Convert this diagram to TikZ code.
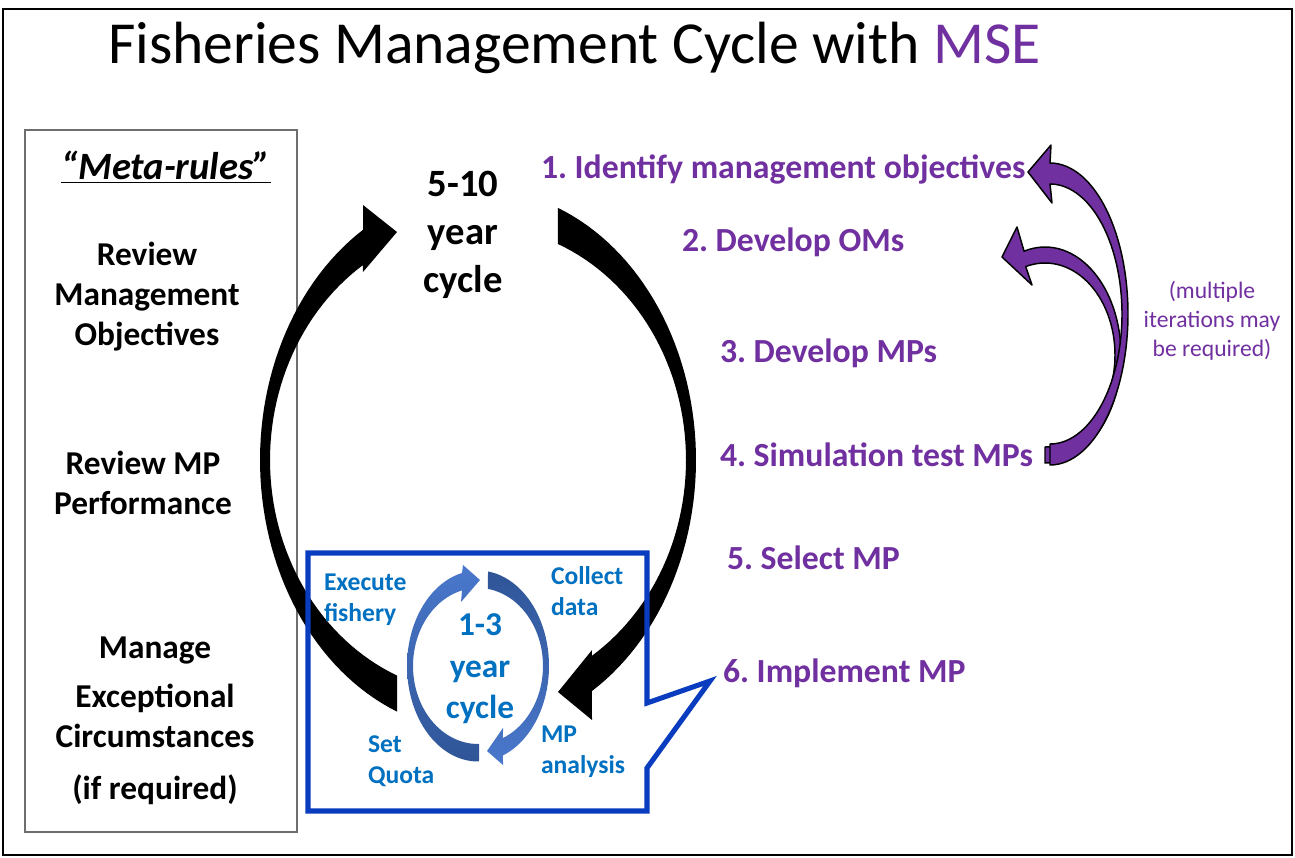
\documentclass[tikz,border=0pt]{standalone}
\usepackage{fontspec}
\setmainfont{Carlito}
\definecolor{mpurple}{HTML}{7030A0}
\definecolor{tblue}{HTML}{0070C0}
\definecolor{bxblue}{HTML}{0A3CC0}
\definecolor{alight}{HTML}{4A78CC}
\definecolor{adark}{HTML}{2F5597}
\definecolor{metagray}{HTML}{6E6E6E}
\begin{document}
\frenchspacing
\begin{tikzpicture}[x=0.75pt,y=0.75pt,
  every node/.style={inner sep=0pt,outer sep=0pt},
  metatxt/.style={font=\fontsize{25}{30}\selectfont\bfseries, align=center},
  cyctxt/.style={font=\fontsize{29}{36}\selectfont\bfseries, align=center},
  steptxt/.style={font=\fontsize{25.3}{30}\selectfont\bfseries, text=mpurple, anchor=base west},
  itertxt/.style={font=\fontsize{17.7}{21.75}\selectfont, text=mpurple, align=center},
  smalltxt/.style={font=\fontsize{19.2}{23}\selectfont\bfseries, text=tblue, align=left, anchor=west},
  smallcyc/.style={font=\fontsize{25}{31}\selectfont\bfseries, text=tblue, align=center},
  bigarrow/.style={fill=black},
  purparrow/.style={fill=mpurple, draw=black, line width=1.1pt, line join=round}]
% canvas
\fill[white] (0,0) rectangle (1295,-857);
\useasboundingbox (0,0) rectangle (1295,-857);
\draw[black, line width=1.5pt] (3,-9) rectangle (1292,-855);
% title
\node[anchor=base west, font=\fontsize{44.7}{50}\selectfont] (title) at (108,-63)
  {Fisheries Management Cycle with \textcolor{mpurple}{MSE}};
% meta-rules box
\draw[metagray, line width=1.1pt] (25,-130) rectangle (297,-832);
\node[metatxt, font=\fontsize{29}{34}\selectfont\bfseries\itshape] (meta) at (166,-167) {\underline{“Meta-rules”}};
\node[metatxt] (rmo) at (147,-297) {Review\\Management\\Objectives};
\node[metatxt] (rmp) at (143,-483) {Review MP\\Performance};
\node[metatxt] (mec) at (155,-721) {Manage\\[7pt]Exceptional\\Circumstances\\[9pt](if required)};
% big black cycle arrows
\fill[bigarrow] plot[domain=248.2:121.8, samples=60, variable=\t] ({478+218*cos(\t)},{-460+271*sin(\t)})
  -- (363,-205) -- (397,-232) -- (363,-272)
  -- plot[domain=123.6:247.1, samples=60, variable=\t] ({478+208*cos(\t)},{-460+234*sin(\t)}) -- cycle;
\fill[bigarrow] plot[domain=68.5:-58.5, samples=60, variable=\t] ({478+218*cos(\t)},{-460+271*sin(\t)})
  -- (592,-720) -- (558,-692) -- (592,-650)
  -- plot[domain=-56.8:67.4, samples=60, variable=\t] ({478+208*cos(\t)},{-460+234*sin(\t)}) -- cycle;
\node[cyctxt] (big) at (463,-235) {5-10\\year\\cycle};
% callout box
\draw[bxblue, line width=3.8pt, line join=miter] (308,-553) -- (647,-553) -- (647,-703) -- (710,-681)
  -- (647,-768) -- (647,-811) -- (308,-811) -- cycle;
% small blue cycle arrows
\shade[top color=alight, bottom color=adark]
  plot[domain=270.8:103, samples=50, variable=\t] ({478+71*cos(\t)},{-666+95.5*sin(\t)})
  -- (463,-565) -- (480,-580) -- (461,-602)
  -- plot[domain=104.2:270.9, samples=50, variable=\t] ({478+65*cos(\t)},{-666+78*sin(\t)}) -- cycle;
\shade[top color=adark, bottom color=alight]
  plot[domain=81.9:-69.4, samples=50, variable=\t] ({478+71*cos(\t)},{-666+95.5*sin(\t)})
  -- (503,-765) -- (487,-751) -- (503,-728)
  -- plot[domain=-67.4:81.2, samples=50, variable=\t] ({478+65*cos(\t)},{-666+78*sin(\t)}) -- cycle;
\node[smallcyc] (small) at (480,-669) {1-3\\year\\cycle};
\node[smalltxt] (exec) at (324,-600) {Execute\\fishery};
\node[smalltxt] (coll) at (551,-591) {Collect\\data};
\node[smalltxt] (setq) at (368,-761) {Set\\Quota};
\node[smalltxt] (mpa) at (541,-752) {MP\\analysis};
% steps
\node[steptxt] (s1) at (541,-178) {1. Identify management objectives};
\node[steptxt] (s2) at (682,-251) {2. Develop OMs};
\node[steptxt] (s3) at (720,-362) {3. Develop MPs};
\node[steptxt] (s4) at (720,-466) {4. Simulation test MPs};
\node[steptxt] (s5) at (727,-569) {5. Select MP};
\node[steptxt] (s6) at (723,-682) {6. Implement MP};
% purple iteration arrows
\draw[purparrow] (1045,-447) -- (1045,-463)
  -- plot[domain=-90:106, samples=60, variable=\t] ({1045+76*cos(\t)},{-355+108*sin(\t)})
  -- (1017,-227) -- (1002,-257) -- (1032,-285)
  -- plot[domain=106:-90, samples=60, variable=\t] ({1045+70*cos(\t)},{-355+92*sin(\t)}) -- cycle;
\draw[purparrow] (1050,-444) -- (1050,-465)
  -- plot[domain=-90:90, samples=60, variable=\t] ({1050+78*cos(\t)},{-314+151*sin(\t)})
  -- (1051,-145) -- (1028,-172) -- (1052,-203)
  -- plot[domain=90:-90, samples=60, variable=\t] ({1050+72*cos(\t)},{-314+130*sin(\t)}) -- cycle;
\node[itertxt] (iter) at (1212,-321) {(multiple\\iterations may\\be required)};
\end{tikzpicture}
\end{document}
